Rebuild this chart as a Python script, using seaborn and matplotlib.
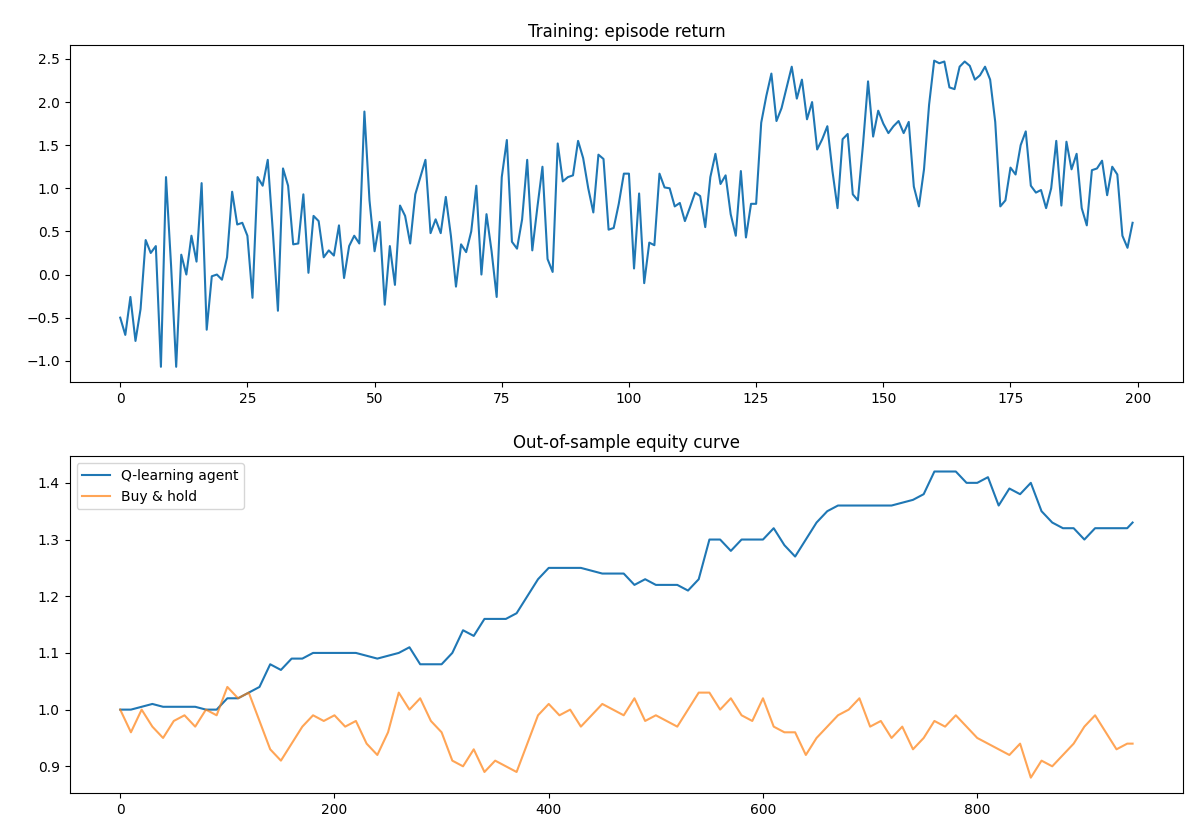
import numpy as np
import pandas as pd
import seaborn as sns
import matplotlib.pyplot as plt

# Training returns, one per episode
episode_return = [
    -0.5, -0.7, -0.26, -0.77, -0.4, 0.4, 0.25, 0.33, -1.07, 1.13,
    0.1, -1.07, 0.23, 0.0, 0.45, 0.15, 1.06, -0.64, -0.02, 0.0,
    -0.06, 0.2, 0.96, 0.58, 0.6, 0.45, -0.27, 1.13, 1.03, 1.33,
    0.5, -0.42, 1.23, 1.03, 0.35, 0.36, 0.93, 0.02, 0.68, 0.62,
    0.2, 0.28, 0.22, 0.57, -0.04, 0.33, 0.45, 0.36, 1.89, 0.86,
    0.27, 0.61, -0.35, 0.33, -0.12, 0.8, 0.68, 0.36, 0.93, 1.13,
    1.33, 0.48, 0.64, 0.48, 0.9, 0.45, -0.14, 0.35, 0.26, 0.5,
    1.03, 0.0, 0.7, 0.27, -0.26, 1.13, 1.56, 0.38, 0.3, 0.64,
    1.33, 0.28, 0.78, 1.25, 0.18, 0.03, 1.52, 1.08, 1.13, 1.15,
    1.55, 1.35, 1.0, 0.72, 1.39, 1.34, 0.52, 0.54, 0.82, 1.17,
    1.17, 0.07, 0.94, -0.1, 0.37, 0.34, 1.17, 1.01, 1.0, 0.79,
    0.83, 0.62, 0.78, 0.95, 0.91, 0.55, 1.13, 1.4, 1.05, 1.15,
    0.7, 0.45, 1.2, 0.43, 0.82, 0.82, 1.76, 2.07, 2.33, 1.78,
    1.93, 2.17, 2.41, 2.04, 2.26, 1.8, 2.0, 1.45, 1.57, 1.72,
    1.2, 0.77, 1.57, 1.63, 0.93, 0.86, 1.5, 2.24, 1.6, 1.9,
    1.75, 1.64, 1.72, 1.78, 1.64, 1.77, 1.02, 0.79, 1.22, 1.97,
    2.48, 2.45, 2.47, 2.17, 2.15, 2.41, 2.47, 2.42, 2.26, 2.31,
    2.41, 2.26, 1.77, 0.79, 0.86, 1.24, 1.16, 1.5, 1.66, 1.03,
    0.95, 0.98, 0.77, 1.0, 1.55, 0.8, 1.54, 1.22, 1.4, 0.77,
    0.57, 1.21, 1.23, 1.32, 0.92, 1.25, 1.16, 0.45, 0.31, 0.6,
]

# Out-of-sample equity, sampled every 10 steps (last at 945)
steps = list(range(0, 950, 10)) + [945]
agent_equity = [
    1.0, 1.0, 1.005, 1.01, 1.005, 1.005, 1.005, 1.005, 1.0, 1.0,
    1.02, 1.02, 1.03, 1.04, 1.08, 1.07, 1.09, 1.09, 1.1, 1.1,
    1.1, 1.1, 1.1, 1.095, 1.09, 1.095, 1.1, 1.11, 1.08, 1.08,
    1.08, 1.1, 1.14, 1.13, 1.16, 1.16, 1.16, 1.17, 1.2, 1.23,
    1.25, 1.25, 1.25, 1.25, 1.245, 1.24, 1.24, 1.24, 1.22, 1.23,
    1.22, 1.22, 1.22, 1.21, 1.23, 1.3, 1.3, 1.28, 1.3, 1.3,
    1.3, 1.32, 1.29, 1.27, 1.3, 1.33, 1.35, 1.36, 1.36, 1.36,
    1.36, 1.36, 1.36, 1.365, 1.37, 1.38, 1.42, 1.42, 1.42, 1.4,
    1.4, 1.41, 1.36, 1.39, 1.38, 1.4, 1.35, 1.33, 1.32, 1.32,
    1.3, 1.32, 1.32, 1.32, 1.32, 1.33,
]
buy_hold_equity = [
    1.0, 0.96, 1.0, 0.97, 0.95, 0.98, 0.99, 0.97, 1.0, 0.99,
    1.04, 1.02, 1.03, 0.98, 0.93, 0.91, 0.94, 0.97, 0.99, 0.98,
    0.99, 0.97, 0.98, 0.94, 0.92, 0.96, 1.03, 1.0, 1.02, 0.98,
    0.96, 0.91, 0.9, 0.93, 0.89, 0.91, 0.9, 0.89, 0.94, 0.99,
    1.01, 0.99, 1.0, 0.97, 0.99, 1.01, 1.0, 0.99, 1.02, 0.98,
    0.99, 0.98, 0.97, 1.0, 1.03, 1.03, 1.0, 1.02, 0.99, 0.98,
    1.02, 0.97, 0.96, 0.96, 0.92, 0.95, 0.97, 0.99, 1.0, 1.02,
    0.97, 0.98, 0.95, 0.97, 0.93, 0.95, 0.98, 0.97, 0.99, 0.97,
    0.95, 0.94, 0.93, 0.92, 0.94, 0.88, 0.91, 0.9, 0.92, 0.94,
    0.97, 0.99, 0.96, 0.93, 0.94, 0.94,
]

fig, axes = plt.subplots(2, 1, figsize=(12, 8.4), dpi=100)

sns.lineplot(x=np.arange(len(episode_return)), y=episode_return, ax=axes[0], color="#1f77b4")
axes[0].set_title("Training: episode return")

sns.lineplot(x=steps, y=agent_equity, ax=axes[1], color="#1f77b4", label="Q-learning agent")
sns.lineplot(x=steps, y=buy_hold_equity, ax=axes[1], color="#ff7f0e", alpha=0.7, label="Buy & hold")
axes[1].set_title("Out-of-sample equity curve")
axes[1].legend(loc="upper left")

plt.subplots_adjust(left=0.058, right=0.986, top=0.946, bottom=0.056, hspace=0.22)
plt.savefig("out.png")
